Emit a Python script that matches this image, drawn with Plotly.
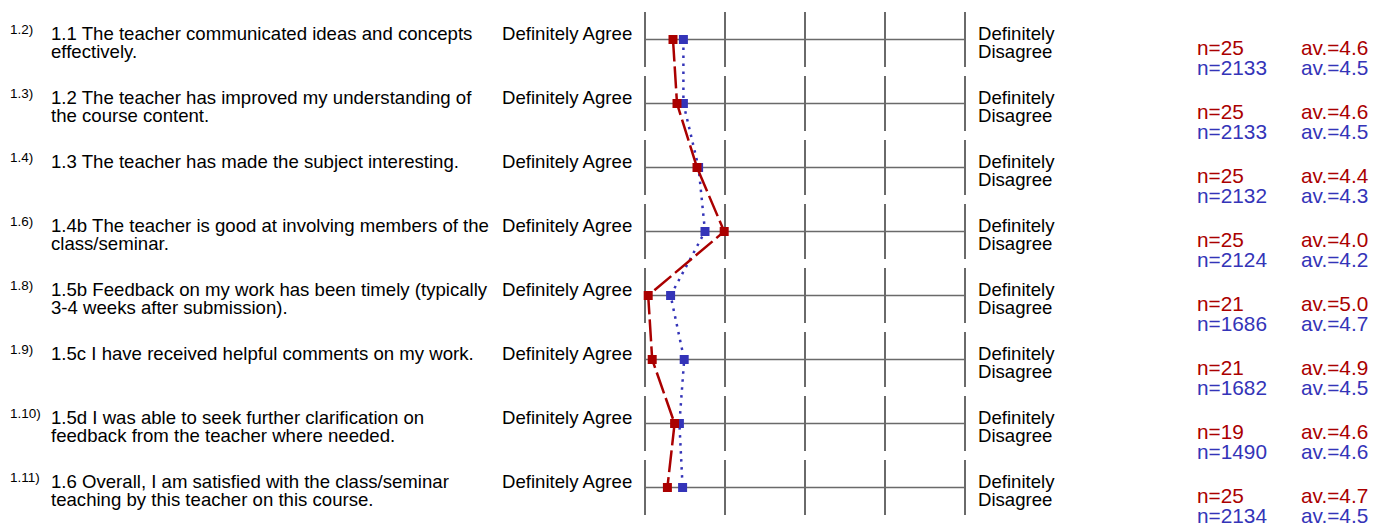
import plotly.graph_objects as go

# ---------------- data ----------------
labels = ["1.2)", "1.3)", "1.4)", "1.6)", "1.8)", "1.9)", "1.10)", "1.11)"]
question_lines = [
    ["1.1 The teacher communicated ideas and concepts", "effectively."],
    ["1.2 The teacher has improved my understanding of", "the course content."],
    ["1.3 The teacher has made the subject interesting."],
    ["1.4b The teacher is good at involving members of the", "class/seminar."],
    ["1.5b Feedback on my work has been timely (typically", "3-4 weeks after submission)."],
    ["1.5c I have received helpful comments on my work."],
    ["1.5d I was able to seek further clarification on", "feedback from the teacher where needed."],
    ["1.6 Overall, I am satisfied with the class/seminar", "teaching by this teacher on this course."],
]
left_pole = "Definitely Agree"
right_pole = ["Definitely", "Disagree"]
scale_values = [5, 4, 3, 2, 1]

course_mean = [4.65, 4.60, 4.35, 4.01, 4.96, 4.91, 4.63, 4.72]
global_mean = [4.52, 4.52, 4.33, 4.25, 4.68, 4.51, 4.57, 4.53]
course_n = [25, 25, 25, 25, 21, 21, 19, 25]
course_av = [4.6, 4.6, 4.4, 4.0, 5.0, 4.9, 4.6, 4.7]
global_n = [2133, 2133, 2132, 2124, 1686, 1682, 1490, 2134]
global_av = [4.5, 4.5, 4.3, 4.2, 4.7, 4.5, 4.6, 4.5]

# ---------------- styling / layout ----------------
W, H = 1374, 527
RED = "#AA0000"
BLUE = "#3434B8"
GRID = "#6a6a6a"
FONT = "Liberation Sans, Arial, sans-serif"

px_scale5 = 645.0   # pixel of scale value 5
px_per_unit = 80.0
row0_px = 39.5
row_step = 64.0

x_r0 = 5 + px_scale5 / px_per_unit
x_r1 = 5 - (W - px_scale5) / px_per_unit
y_hi = row0_px / row_step
y_lo = y_hi - H / row_step

rows = [-i for i in range(len(labels))]

fig = go.Figure()

shapes = []
half = 27.5 / row_step
for r in rows:
    for v in scale_values:
        shapes.append(dict(type="line", xref="x", yref="y", x0=v, x1=v,
                           y0=r - half, y1=r + half,
                           line=dict(color=GRID, width=2), layer="below"))
    shapes.append(dict(type="line", xref="x", yref="y", x0=scale_values[0], x1=scale_values[-1],
                       y0=r, y1=r, line=dict(color=GRID, width=1.5), layer="below"))

fig.add_trace(go.Scatter(
    x=global_mean, y=rows, mode="lines+markers",
    line=dict(color=BLUE, width=2.5, dash="2.5px,5.5px"),
    marker=dict(symbol="square", size=9, color=BLUE, line=dict(width=0)),
    hoverinfo="skip", showlegend=False, cliponaxis=False))
fig.add_trace(go.Scatter(
    x=course_mean, y=rows, mode="lines+markers",
    line=dict(color=RED, width=2.5, dash="22px,5px"),
    marker=dict(symbol="square", size=9, color=RED, line=dict(width=0)),
    hoverinfo="skip", showlegend=False, cliponaxis=False))

ann = []
def add(text, xpx, r, yshift, size, color="black", anchor="left"):
    ann.append(dict(text=text, x=xpx / W, xref="paper", y=r, yref="y",
                    yshift=yshift, xanchor=anchor, yanchor="middle",
                    showarrow=False, font=dict(family=FONT, size=size, color=color)))

MAIN = 18.6
STAT = 20.8
L1, L2 = 5.8, -11.6
for i, r in enumerate(rows):
    add(labels[i], 8, r, 10.3, 13.5)
    for j, line in enumerate(question_lines[i]):
        add(line, 48.7, r, L1 if j == 0 else L2, MAIN)
    add(left_pole, 633.7, r, L1, MAIN, anchor="right")
    add(right_pole[0], 976.3, r, L1, MAIN)
    add(right_pole[1], 976.3, r, L2, MAIN)
    add(f"n={course_n[i]}", 1194.7, r, -7.7, STAT, RED)
    add(f"av.={course_av[i]:.1f}", 1298.7, r, -7.7, STAT, RED)
    add(f"n={global_n[i]}", 1194.7, r, -28.4, STAT, BLUE)
    add(f"av.={global_av[i]:.1f}", 1298.7, r, -28.4, STAT, BLUE)

fig.update_layout(
    width=W, height=H,
    margin=dict(l=0, r=0, t=0, b=0),
    paper_bgcolor="white", plot_bgcolor="white",
    xaxis=dict(range=[x_r0, x_r1], visible=False, domain=[0, 1], fixedrange=True),
    yaxis=dict(range=[y_lo, y_hi], visible=False, domain=[0, 1], fixedrange=True),
    shapes=shapes, annotations=ann, showlegend=False,
    hovermode=False,
)

fig.write_html(
    "out.html",
    config={"displayModeBar": False, "staticPlot": True},
    post_script="document.body.style.margin='0';document.documentElement.style.overflow='hidden';",
)
